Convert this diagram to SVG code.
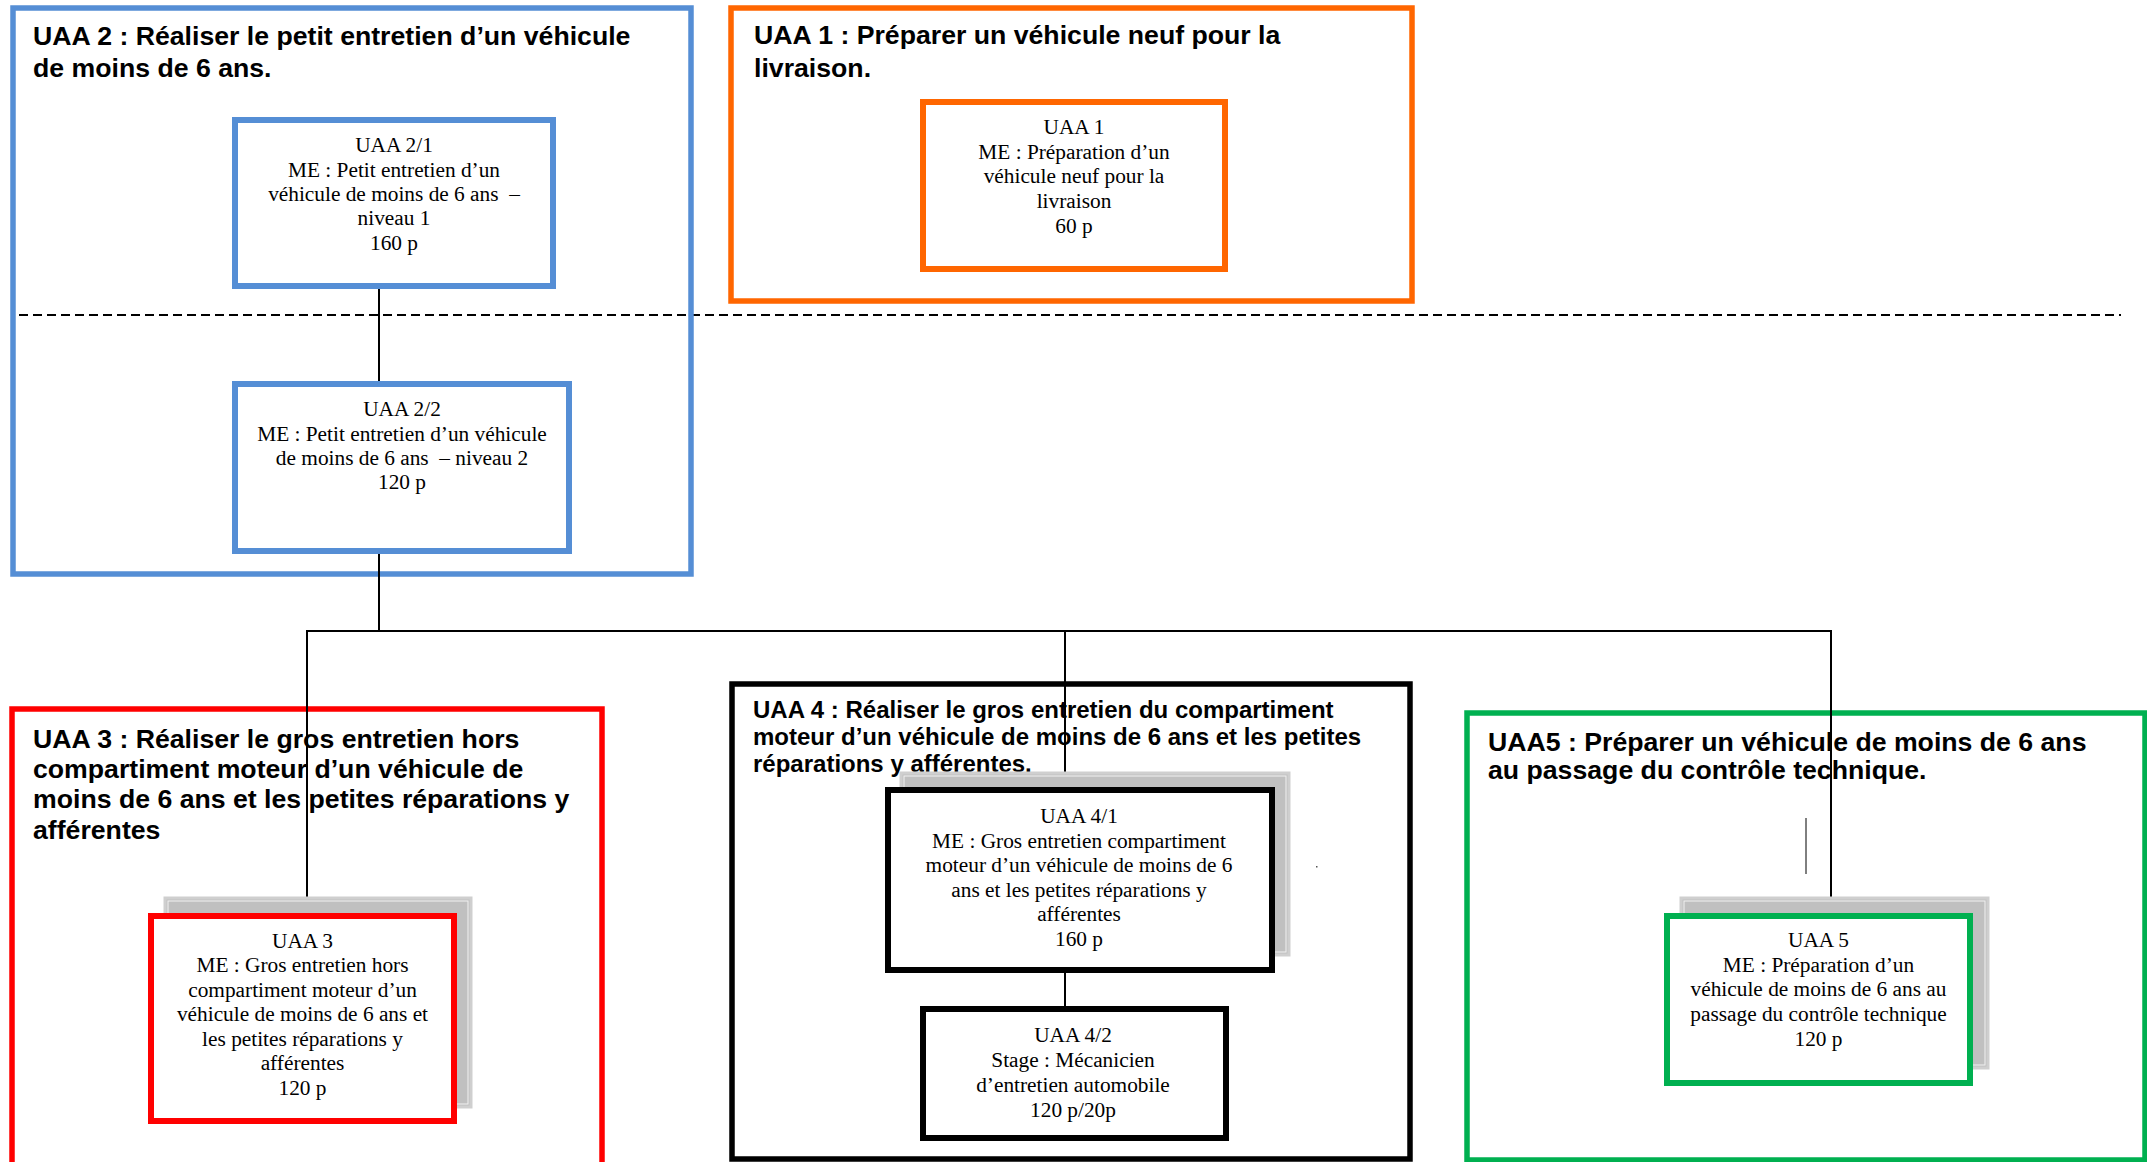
<svg xmlns="http://www.w3.org/2000/svg" width="2147" height="1162" viewBox="0 0 2147 1162">
<style>
.title{font-family:"Liberation Sans",Arial,sans-serif;font-weight:bold;font-size:26.67px;fill:#000}
.title24{font-family:"Liberation Sans",Arial,sans-serif;font-weight:bold;font-size:24px;fill:#000}
.body{font-family:"Liberation Serif","Times New Roman",serif;font-size:21.33px;fill:#000;text-anchor:middle}
.frame{fill:none;stroke-width:5.5}
.box{fill:#fff;stroke-width:6}
.blue{stroke:#558ED5}
.orange{stroke:#FF6600}
.red{stroke:#FF0000}
.black{stroke:#000}
.green{stroke:#00B050}
.shadow{fill:#C0C0C0;stroke:#CFCFCF;stroke-width:3}
.shadowin{fill:none;stroke:#F2F2F2;stroke-width:1}
.conn{stroke:#000;stroke-width:2;fill:none}
</style>
<rect width="2147" height="1162" fill="#fff"/>

<g id="separator">
<line x1="19" y1="315" x2="2121" y2="315" stroke="#000" stroke-width="2" stroke-dasharray="9 5"/>
</g>

<g id="uaa2-frame">
<rect class="frame blue" x="13" y="8" width="678" height="566"/>
<text class="title" x="33" y="45">UAA 2 : Réaliser le petit entretien d’un véhicule</text>
<text class="title" x="33" y="77">de moins de 6 ans.</text>
</g>

<g id="uaa1-frame">
<rect class="frame orange" x="731" y="8" width="681" height="293"/>
<text class="title" x="754" y="44">UAA 1 : Préparer un véhicule neuf pour la</text>
<text class="title" x="754" y="77">livraison.</text>
</g>

<g id="uaa3-frame">
<rect class="frame red" x="12" y="709" width="590" height="470"/>
<text class="title" x="33" y="748">UAA 3 : Réaliser le gros entretien hors</text>
<text class="title" x="33" y="778">compartiment moteur d’un véhicule de</text>
<text class="title" x="33" y="808">moins de 6 ans et les petites réparations y</text>
<text class="title" x="33" y="839">afférentes</text>
</g>

<g id="uaa4-frame">
<rect class="frame black" x="732" y="684" width="678" height="475"/>
<text class="title24" x="753" y="718">UAA 4 : Réaliser le gros entretien du compartiment</text>
<text class="title24" x="753" y="745">moteur d’un véhicule de moins de 6 ans et les petites</text>
<text class="title24" x="753" y="772">réparations y afférentes.</text>
</g>

<g id="uaa5-frame">
<rect class="frame green" x="1467" y="713" width="678" height="447"/>
<text class="title" x="1488" y="751">UAA5 : Préparer un véhicule de moins de 6 ans</text>
<text class="title" x="1488" y="779">au passage du contrôle technique.</text>
</g>

<g id="connectors">
<line class="conn" x1="379" y1="286" x2="379" y2="384"/>
<line class="conn" x1="379" y1="551" x2="379" y2="631"/>
<line class="conn" x1="306" y1="631" x2="1832" y2="631"/>
<line class="conn" x1="307" y1="630" x2="307" y2="916"/>
<line class="conn" x1="1065" y1="630" x2="1065" y2="790"/>
<line class="conn" x1="1831" y1="630" x2="1831" y2="916"/>
<line class="conn" x1="1065" y1="970" x2="1065" y2="1009"/>
<line x1="1806" y1="818" x2="1806" y2="874" stroke="#000" stroke-width="1"/>
<rect x="1316" y="866" width="1.5" height="1.5" fill="#555"/>
</g>

<g id="uaa2-1">
<rect class="box blue" x="235" y="120" width="318" height="166"/>
<text class="body" x="394" y="152">UAA 2/1</text>
<text class="body" x="394" y="177">ME : Petit entretien d’un</text>
<text class="body" x="394" y="201">véhicule de moins de 6 ans &#160;–</text>
<text class="body" x="394" y="225">niveau 1</text>
<text class="body" x="394" y="250">160 p</text>
</g>

<g id="uaa2-2">
<rect class="box blue" x="235" y="384" width="334" height="167"/>
<text class="body" x="402" y="416">UAA 2/2</text>
<text class="body" x="402" y="441">ME : Petit entretien d’un véhicule</text>
<text class="body" x="402" y="465">de moins de 6 ans &#160;– niveau 2</text>
<text class="body" x="402" y="489">120 p</text>
</g>

<g id="uaa1">
<rect class="box orange" x="923" y="102" width="302" height="167"/>
<text class="body" x="1074" y="134">UAA 1</text>
<text class="body" x="1074" y="159">ME : Préparation d’un</text>
<text class="body" x="1074" y="183">véhicule neuf pour la</text>
<text class="body" x="1074" y="208">livraison</text>
<text class="body" x="1074" y="233">60 p</text>
</g>

<g id="uaa3">
<rect class="shadow" x="165" y="898" width="306" height="209"/>
<rect class="shadowin" x="168" y="901" width="300" height="203"/>
<rect class="box red" x="151" y="916" width="303" height="205"/>
<text class="body" x="302.5" y="947.5">UAA 3</text>
<text class="body" x="302.5" y="972">ME : Gros entretien hors</text>
<text class="body" x="302.5" y="996.5">compartiment moteur d’un</text>
<text class="body" x="302.5" y="1021">véhicule de moins de 6 ans et</text>
<text class="body" x="302.5" y="1045.5">les petites réparations y</text>
<text class="body" x="302.5" y="1070">afférentes</text>
<text class="body" x="302.5" y="1094.5">120 p</text>
</g>

<g id="uaa4-1">
<rect class="shadow" x="901" y="773" width="388" height="182"/>
<rect class="shadowin" x="904" y="776" width="382" height="176"/>
<rect class="box black" x="888" y="790" width="384" height="180"/>
<text class="body" x="1079" y="823">UAA 4/1</text>
<text class="body" x="1079" y="848">ME : Gros entretien compartiment</text>
<text class="body" x="1079" y="872">moteur d’un véhicule de moins de 6</text>
<text class="body" x="1079" y="897">ans et les petites réparations y</text>
<text class="body" x="1079" y="921">afférentes</text>
<text class="body" x="1079" y="946">160 p</text>
</g>

<g id="uaa4-2">
<rect class="box black" x="923" y="1009" width="303" height="129"/>
<text class="body" x="1073" y="1042">UAA 4/2</text>
<text class="body" x="1073" y="1067">Stage : Mécanicien</text>
<text class="body" x="1073" y="1092">d’entretien automobile</text>
<text class="body" x="1073" y="1117">120 p/20p</text>
</g>

<g id="uaa5">
<rect class="shadow" x="1681" y="898" width="307" height="170"/>
<rect class="shadowin" x="1684" y="901" width="301" height="164"/>
<rect class="box green" x="1667" y="916" width="303" height="167"/>
<text class="body" x="1818.5" y="947">UAA 5</text>
<text class="body" x="1818.5" y="972">ME : Préparation d’un</text>
<text class="body" x="1818.5" y="996">véhicule de moins de 6 ans au</text>
<text class="body" x="1818.5" y="1021">passage du contrôle technique</text>
<text class="body" x="1818.5" y="1046">120 p</text>
</g>
</svg>
